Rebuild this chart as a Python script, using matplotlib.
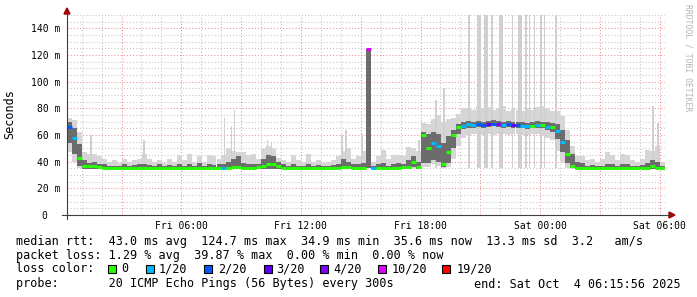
import datetime as dt
import matplotlib
matplotlib.use("Agg")
import matplotlib.pyplot as plt
import matplotlib.dates as mdates
from matplotlib.ticker import MultipleLocator, FuncFormatter
from matplotlib.patches import Rectangle, Polygon
from matplotlib.lines import Line2D

W, H = 697, 297
start = dt.datetime(2025, 10, 3, 0, 15, 56)
end = dt.datetime(2025, 10, 4, 6, 15, 56)
step = dt.timedelta(minutes=15)

# one value per 15 min, 120 bins = last 30 hours (ms)
rtt_med = [66, 58, 43, 37, 36.5, 37, 36, 35.5, 35.5, 35.5, 35.5, 35.5,
           35.5, 35.5, 35.5, 35.5, 35.5, 35.5, 35.5, 35.5, 35.5, 35.5, 35.5, 35.5,
           35.5, 35.5, 35.5, 35.5, 35.5, 35.5, 35.5, 35.5, 35.5, 36, 36, 35.5,
           35.5, 35.5, 36, 37, 38, 38, 37, 35.5, 35.5, 35.5, 35.5, 35.5,
           35.5, 35.5, 35.5, 35.5, 35.5, 35.5, 35.5, 36, 36, 35.5, 35.5, 35.5,
           124.7, 35.5, 35.5, 35.5, 35.5, 35.5, 35.5, 36, 36, 40, 36, 60,
           50, 54, 52, 38, 47, 60, 66, 67, 68, 67.5, 68, 67.5,
           68, 68.5, 68, 67.5, 68, 67.5, 67.5, 67, 66.5, 67, 67.5, 67.5,
           66, 66, 63, 55, 46, 37, 35.5, 35.5, 35.5, 35.5, 35.5, 35.5,
           35.5, 35.5, 35.5, 35.5, 35.5, 35.5, 35.5, 35.5, 35.5, 37, 35.5, 35.5]

# lost pings out of 20
loss = [2, 1, 0, 0, 0, 0, 0, 0, 0, 0, 0, 0,
        0, 0, 0, 0, 0, 0, 0, 0, 0, 0, 0, 0,
        0, 0, 0, 0, 0, 0, 0, 1, 0, 0, 0, 0,
        0, 0, 0, 0, 0, 0, 0, 0, 0, 0, 0, 0,
        0, 0, 0, 0, 0, 0, 0, 0, 0, 0, 0, 0,
        10, 1, 0, 0, 0, 0, 0, 0, 0, 0, 0, 0,
        0, 1, 1, 0, 0, 0, 0, 1, 1, 1, 2, 2,
        3, 2, 4, 1, 2, 3, 2, 1, 1, 0, 1, 0,
        1, 0, 1, 1, 0, 0, 0, 0, 0, 0, 0, 0,
        0, 0, 0, 0, 0, 0, 0, 0, 0, 0, 0, 0]

# light smoke (all pings) bottom / top
smoke_lo = [47, 40, 35, 34.5, 34.5, 34.5, 34.5, 34.5, 34.5, 34.5, 34.5, 34.5,
            34.5, 34.5, 34.5, 34.5, 34.5, 34.5, 34.5, 34.5, 34.5, 34.5, 34.5, 34.5,
            34.5, 34.5, 34.5, 34.5, 34.5, 34.5, 34.5, 34.5, 34.5, 34.5, 34.5, 34.5,
            34.5, 34.5, 34.5, 34.5, 34.5, 34.5, 34.5, 34.5, 34.5, 34.5, 34.5, 34.5,
            34.5, 34.5, 34.5, 34.5, 34.5, 34.5, 34.5, 34.5, 34.5, 34.5, 34.5, 34.5,
            35, 34.5, 34.5, 34.5, 34.5, 34.5, 34.5, 34.5, 34.5, 35, 34.5, 36,
            36, 38, 37, 35, 36, 42, 52, 58, 60, 61, 61, 60,
            61, 60, 61, 61, 60, 61, 61, 60, 60, 61, 61, 60,
            58, 56, 48, 40, 35, 34.5, 34.5, 34.5, 34.5, 34.5, 34.5, 34.5,
            34.5, 34.5, 34.5, 34.5, 34.5, 34.5, 34.5, 34.5, 34.5, 34.5, 34.5, 34.5]

smoke_hi = [73, 71, 62, 47, 46, 46, 44, 42, 40, 41, 39, 42,
            40, 41, 42, 46, 42, 40, 41, 39, 42, 40, 45, 41,
            46, 40, 44, 40, 45, 44, 42, 45, 50, 48, 47, 47,
            45, 46, 42, 50, 52, 50, 43, 41, 40, 45, 41, 40,
            46, 40, 41, 39, 40, 41, 44, 48, 50, 42, 44, 48,
            124.7, 40, 44, 49, 42, 45, 45, 44, 51, 50, 48, 69,
            68, 72, 75, 70, 72, 73, 76, 80, 80, 79, 82, 80,
            81, 79, 80, 82, 78, 80, 79, 78, 80, 79, 81, 82,
            80, 78, 78, 74, 64, 52, 44, 44, 41, 42, 40, 42,
            47, 45, 41, 46, 45, 41, 40, 42, 49, 48, 52, 40]

# dark smoke (middle pings) bottom / top
dark_lo = [54, 46, 37, 34.5, 34.5, 34.5, 34.5, 34.5, 34.5, 34.5, 34.5, 34.5,
           34.5, 34.5, 34.5, 34.5, 34.5, 34.5, 34.5, 34.5, 34.5, 34.5, 34.5, 34.5,
           34.5, 34.5, 34.5, 34.5, 34.5, 34.5, 34.5, 34.5, 34.5, 34.5, 34.5, 34.5,
           34.5, 34.5, 34.5, 34.5, 34.5, 34.5, 34.5, 34.5, 34.5, 34.5, 34.5, 34.5,
           34.5, 34.5, 34.5, 34.5, 34.5, 34.5, 34.5, 34.5, 34.5, 34.5, 34.5, 34.5,
           35, 34.5, 34.5, 34.5, 34.5, 34.5, 34.5, 34.5, 34.5, 36, 34.5, 39,
           39, 41, 40, 36, 39, 50, 61, 64.5, 65.5, 65.5, 66, 65.5,
           66, 66.5, 66, 65.5, 66, 65.5, 65.5, 65, 64.5, 65, 65.5, 65.5,
           63.5, 62.5, 57, 47, 39, 35, 34.5, 34.5, 34.5, 34.5, 34.5, 34.5,
           34.5, 34.5, 34.5, 34.5, 34.5, 34.5, 34.5, 34.5, 34.5, 34.5, 34.5, 34.5]

dark_hi = [70, 65, 53, 41, 39, 39.5, 38.5, 38, 37, 37, 37, 38,
           37, 37.5, 38, 38, 37.5, 37, 38, 37, 37.5, 37, 38.5, 37,
           38, 37, 39, 37, 38, 37.5, 38, 38, 40, 42, 44, 39,
           38, 38, 38, 42, 45, 44, 40, 38, 37, 38, 37, 37,
           38, 37, 37.5, 37, 37, 37.5, 38, 42, 40, 38, 38, 39,
           124.7, 37, 38, 39, 37, 38, 39, 38, 41, 44, 40, 62,
           61, 62, 61, 54, 59, 64, 68.5, 70, 70.5, 70, 70.5, 70,
           70.5, 71, 70.5, 70, 70.5, 70, 70, 69.5, 69, 69.5, 70.5, 70,
           69.5, 69, 68, 64, 56, 46, 40, 39, 37, 37.5, 37, 37,
           38, 38, 37, 38, 38, 37, 37, 37.5, 39, 41, 40, 37]

# single 5 min smoke spikes (time, top in ms)
spike_time = ["10-03 01:28", "10-03 04:07", "10-03 08:10", "10-03 08:31", "10-03 08:40",
              "10-03 10:19", "10-03 10:31", "10-03 14:04", "10-03 14:16", "10-03 15:04",
              "10-03 17:55", "10-03 18:46", "10-03 19:10",
              "10-03 20:25", "10-03 20:54", "10-03 20:59", "10-03 21:15", "10-03 21:20",
              "10-03 21:35", "10-03 22:00", "10-03 22:05", "10-03 22:37", "10-03 22:57",
              "10-03 23:02", "10-03 23:17", "10-03 23:28", "10-03 23:43", "10-04 00:02",
              "10-04 00:13", "10-04 00:47",
              "10-04 05:40", "10-04 05:55"]
spike_top = [60, 56, 73, 67, 79, 56, 55, 60, 64, 61, 56, 86, 95,
             160, 160, 160, 160, 160, 160, 160, 160, 160, 160, 160, 160, 160, 160, 160, 160, 160,
             82, 69]

loss_colors = {0: '#26ff00', 1: '#00b8ff', 2: '#0059ff', 3: '#5e00ff',
               4: '#7e00ff', 10: '#dd00ff', 19: '#ff0000'}
legend_loss = [0, 1, 2, 3, 4, 10, 19]

plt.rcParams['font.family'] = 'DejaVu Sans Mono'

fig = plt.figure(figsize=(W / 100, H / 100), dpi=100)
ax = fig.add_axes([67 / W, 1 - 215 / H, 598 / W, 200 / H])

def fx(x):
    return x / W

def fy(y):
    return 1 - y / H

t = [start + i * step for i in range(len(rtt_med))]
width = step.total_seconds() / 86400

ax.bar(t, [h - l for h, l in zip(smoke_hi, smoke_lo)], bottom=smoke_lo, width=width,
       align='edge', color='#d6d6d6', lw=0, zorder=1)

st = [dt.datetime.strptime("2025-" + s, "%Y-%m-%d %H:%M") for s in spike_time]
ax.bar(st, [v - 35 for v in spike_top], bottom=35, width=5 / 1440, align='center',
       color='#d0d0d0', lw=0, zorder=1)

ax.bar(t, [h - l for h, l in zip(dark_hi, dark_lo)], bottom=dark_lo, width=width,
       align='edge', color='#6c6c6c', lw=0, zorder=2)

ax.hlines(rtt_med, t, [x + step for x in t], colors=[loss_colors[l] for l in loss],
          lw=2.2, zorder=4)

ax.set_xlim(start, end)
ax.set_ylim(0, 150)

ax.xaxis.set_major_locator(mdates.HourLocator(byhour=range(0, 24, 3)))
ax.xaxis.set_minor_locator(mdates.HourLocator())
ax.xaxis.set_major_formatter(FuncFormatter(
    lambda v, p: mdates.num2date(v).strftime('%a %H:%M') if mdates.num2date(v).hour % 6 == 0 else ''))
ax.yaxis.set_major_locator(MultipleLocator(20))
ax.yaxis.set_minor_locator(MultipleLocator(5))
ax.yaxis.set_major_formatter(FuncFormatter(lambda v, p: '0  ' if v == 0 else '%d m' % v))

ax.set_axisbelow(True)
ax.grid(which='major', color='#f08c8c', lw=0.75, ls=(0, (1, 2)))
ax.grid(which='minor', color='#c4c4c4', lw=0.75, ls=(0, (1, 2)))
for s in ax.spines.values():
    s.set_visible(False)
ax.tick_params(which='both', length=0, labelsize=7, colors='black')
ax.tick_params(axis='x', pad=4)
ax.tick_params(axis='y', pad=5)

# axis lines with arrows
fig.add_artist(Line2D([fx(67), fx(67)], [fy(219), fy(12)], color='#404040', lw=0.8))
fig.add_artist(Line2D([fx(62), fx(670)], [fy(215), fy(215)], color='#404040', lw=0.8))
fig.add_artist(Polygon([[fx(64), fy(14)], [fx(70), fy(14)], [fx(67), fy(8)]],
                       closed=True, color='#a00000', transform=fig.transFigure))
fig.add_artist(Polygon([[fx(669), fy(212)], [fx(669), fy(218)], [fx(675), fy(215)]],
                       closed=True, color='#a00000', transform=fig.transFigure))

fig.text(fx(10), fy(114), 'Seconds', rotation=90, ha='center', va='center', fontsize=8.5)
fig.text(fx(688), fy(4), 'RRDTOOL / TOBI OETIKER', rotation=270, ha='center', va='top',
         fontsize=5.8, color='#b4b4b4')

lfs = 8.5
fig.text(fx(16), fy(241), 'median rtt:  43.0 ms avg  124.7 ms max  34.9 ms min  35.6 ms now  '
         '13.3 ms sd  3.2   am/s', ha='left', va='center', fontsize=lfs)
fig.text(fx(16), fy(255), 'packet loss: 1.29 % avg  39.87 % max  0.00 % min  0.00 % now',
         ha='left', va='center', fontsize=lfs)
fig.text(fx(16), fy(269), 'loss color:', ha='left', va='center', fontsize=lfs)
box_x = [108, 146, 204, 264, 320, 378, 442]
lab_x = [121, 159, 218, 276, 333, 392, 457]
for l, bx, lx in zip(legend_loss, box_x, lab_x):
    fig.add_artist(Rectangle((fx(bx), fy(273)), 8 / W, 8 / H, facecolor=loss_colors[l],
                             edgecolor='black', lw=0.8, transform=fig.transFigure))
    fig.text(fx(lx), fy(269), '0' if l == 0 else '%d/20' % l, ha='left', va='center', fontsize=lfs)
fig.text(fx(16), fy(284), 'probe:       20 ICMP Echo Pings (56 Bytes) every 300s',
         ha='left', va='center', fontsize=lfs)
fig.text(fx(681), fy(284), 'end: Sat Oct  4 06:15:56 2025', ha='right', va='center', fontsize=lfs)

fig.savefig('out.png', dpi=100, facecolor='white')
